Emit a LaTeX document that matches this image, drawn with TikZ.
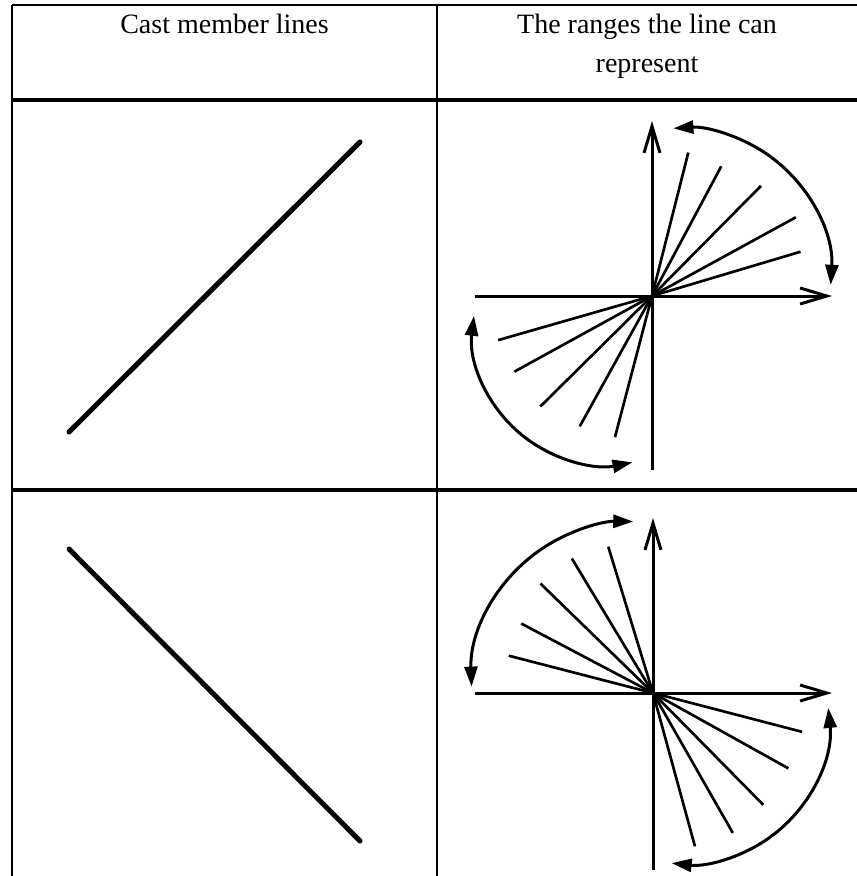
\documentclass[tikz,border=0pt]{standalone}
\usepackage{fontspec}
\setmainfont{Liberation Serif}
\usetikzlibrary{arrows.meta}

\tikzset{every picture/.style={line width=0.75pt}}
\tikzset{
  gridline/.style={line width=1.5},
  ruleline/.style={line width=3},
  castline/.style={line width=3.75, line cap=round},
  rayline/.style={line width=2},
  axisline/.style={line width=2.25, -{Straight Barb[length=20pt,width=12pt]}},
  rangearc/.style={line width=2.25, {Triangle[length=15pt,width=9.75pt]}-{Triangle[length=15pt,width=9.75pt]}},
  headtext/.style={font=\fontsize{21}{29.25}\selectfont, align=center, inner sep=0pt}
}

\begin{document}
\begin{tikzpicture}[x=0.75pt,y=0.75pt,yscale=-1,xscale=1]
\useasboundingbox (0,0) rectangle (857,876);

%Table: borders and rules
\draw [gridline] (12,5) -- (857,5) ;
\draw [gridline] (12,5) -- (12,876) ;
\draw [gridline] (437,5) -- (437,876) ;
\draw [ruleline] (12,100) -- (857,100) ;
\draw [ruleline] (12,490) -- (857,490) ;

% Text Node
\draw (224.5,33) node [headtext, anchor=base] (castlbl) {Cast member lines};
% Text Node
\draw (647,72) node [headtext, anchor=base] (rangelbl) {The ranges the line can\\represent};

%Straight Lines: rising cast line
\draw [castline] (69,432) -- (360,142) ;
%Straight Lines: falling cast line
\draw [castline] (69,549) -- (360,841) ;

%Shape: Axis 2D (upper)
\draw [axisline] (475,296) -- (832,296) ;
\draw [axisline] (652,470) -- (652,121) ;
%Straight Lines: upper right fan
\draw [rayline] (652,296) -- ++(-16.6:155) ;
\draw [rayline] (652,296) -- ++(-28.7:164) ;
\draw [rayline] (652,296) -- ++(-45.3:155) ;
\draw [rayline] (652,296) -- ++(-61.9:147) ;
\draw [rayline] (652,296) -- ++(-75.8:148) ;
%Straight Lines: lower left fan
\draw [rayline] (652,296) -- ++(164:160) ;
\draw [rayline] (652,296) -- ++(151.2:157) ;
\draw [rayline] (652,296) -- ++(135.3:157) ;
\draw [rayline] (652,296) -- ++(119:149) ;
\draw [rayline] (652,296) -- ++(104.7:146) ;
%Curve Lines
\draw [rangearc] (830.7,284.8) arc [start angle=3.4, end angle=-93.7, radius=148] ;
%Curve Lines
\draw [rangearc] (474,315.8) arc [start angle=187, end angle=78.5, radius=133] ;

%Shape: Axis 2D (lower)
\draw [axisline] (475,693) -- (832,693) ;
\draw [axisline] (653,870) -- (653,518) ;
%Straight Lines: upper left fan
\draw [rayline] (653,693) -- ++(-107:153) ;
\draw [rayline] (653,693) -- ++(-121.1:157) ;
\draw [rayline] (653,693) -- ++(-135.8:157) ;
\draw [rayline] (653,693) -- ++(-152.2:149) ;
\draw [rayline] (653,693) -- ++(-165.5:149) ;
%Straight Lines: lower right fan
\draw [rayline] (653,693) -- ++(14.6:154) ;
\draw [rayline] (653,693) -- ++(29.1:155) ;
\draw [rayline] (653,693) -- ++(45.4:157) ;
\draw [rayline] (653,693) -- ++(60.3:161) ;
\draw [rayline] (653,693) -- ++(74.7:159) ;
%Curve Lines
\draw [rangearc] (471.6,686.6) arc [start angle=178, end angle=270.8, radius=159.5] ;
%Curve Lines
\draw [rangearc] (828.3,707.9) arc [start angle=-5.7, end angle=96.2, radius=142] ;

\end{tikzpicture}
\end{document}
